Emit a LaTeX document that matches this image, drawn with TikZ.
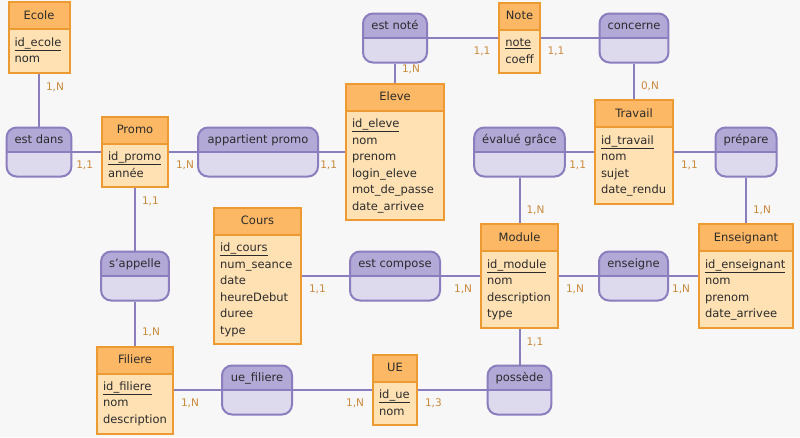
\documentclass[tikz,border=0pt]{standalone}
\usepackage{fontspec}
\setmainfont{DejaVu Sans}
\usepackage{xcolor}
\usepackage{tikz}
\usetikzlibrary{shapes.multipart}
\definecolor{bg}{HTML}{F7F7F7}
\definecolor{entline}{HTML}{EE9A33}
\definecolor{enthdr}{HTML}{FDB865}
\definecolor{entbody}{HTML}{FFE1B4}
\definecolor{relline}{HTML}{8B7DBE}
\definecolor{relhdr}{HTML}{B2A9D7}
\definecolor{relbody}{HTML}{DCDAEC}
\definecolor{cardcol}{HTML}{C98A3C}
\definecolor{txt}{HTML}{2B2B2B}

\begin{document}
\begin{tikzpicture}[x=1pt, y=-1pt,
entity/.style={rectangle split, rectangle split parts=2, draw=entline, line width=2pt, rectangle split part fill={enthdr,entbody}, rectangle split part align={center,left}, inner xsep=6pt, inner ysep=4.25pt, text=txt, font=\fontsize{11.5}{16.5}\selectfont},
relation/.style={draw=relline, line width=2pt, fill=relbody, rounded corners=10pt, minimum width=60pt, inner xsep=8pt, inner ysep=8pt, text height=8pt, text depth=25pt, text=txt, font=\fontsize{11.5}{16.5}\selectfont,
  path picture={\fill[relhdr, sharp corners] (path picture bounding box.north west) rectangle (path picture bounding box.east);
  \draw[relline, sharp corners, line width=1.5pt] (path picture bounding box.west) -- (path picture bounding box.east);}},
link/.style={draw=relline, line width=2pt},
card/.style={font=\fontsize{10.5}{12}\selectfont, text=cardcol, inner sep=0pt, at start},
cardse/.style={card, anchor=north west, xshift=6pt, yshift=-8pt},
cardsw/.style={card, anchor=north east, xshift=-7pt, yshift=-8pt},
cardne/.style={card, anchor=south west, xshift=6pt, yshift=8pt}]

\path[use as bounding box, fill=bg] (0,0) rectangle (800,437);

\node[entity, minimum width=61pt] (ecole) at (39,37.5) {Ecole\strut\nodepart{two}\begin{tabular}{@{}l@{}}\underline{id\_ecole}\\ nom\end{tabular}};
\node[entity, minimum width=66pt] (promo) at (135,152) {Promo\strut\nodepart{two}\begin{tabular}{@{}l@{}}\underline{id\_promo}\\ année\end{tabular}};
\node[entity, minimum width=98pt] (eleve) at (395,152) {Eleve\strut\nodepart{two}\begin{tabular}{@{}l@{}}\underline{id\_eleve}\\ nom\\ prenom\\ login\_eleve\\ mot\_de\_passe\\ date\_arrivee\end{tabular}};
\node[entity, minimum width=39pt] (note) at (519.5,38) {Note\strut\nodepart{two}\begin{tabular}{@{}l@{}}\underline{note}\\ coeff\end{tabular}};
\node[entity, minimum width=78pt] (travail) at (634,152) {Travail\strut\nodepart{two}\begin{tabular}{@{}l@{}}\underline{id\_travail}\\ nom\\ sujet\\ date\_rendu\end{tabular}};
\node[entity, minimum width=94pt] (enseignant) at (746,276) {Enseignant\strut\nodepart{two}\begin{tabular}{@{}l@{}}\underline{id\_enseignant}\\ nom\\ prenom\\ date\_arrivee\end{tabular}};
\node[entity, minimum width=77pt] (module) at (519.5,276) {Module\strut\nodepart{two}\begin{tabular}{@{}l@{}}\underline{id\_module}\\ nom\\ description\\ type\end{tabular}};
\node[entity, minimum width=87pt] (cours) at (257.5,276) {Cours\strut\nodepart{two}\begin{tabular}{@{}l@{}}\underline{id\_cours}\\ num\_seance\\ date\\ heureDebut\\ duree\\ type\end{tabular}};
\node[entity, minimum width=44pt] (ue) at (395,390) {UE\strut\nodepart{two}\begin{tabular}{@{}l@{}}\underline{id\_ue}\\ nom\end{tabular}};
\node[entity, minimum width=76pt] (filiere) at (135,390) {Filiere\strut\nodepart{two}\begin{tabular}{@{}l@{}}\underline{id\_filiere}\\ nom\\ description\end{tabular}};

\node[relation, minimum width=64pt] (estdans) at (39,152) {est dans};
\node[relation, minimum width=120pt] (appartient) at (258,152) {appartient promo};
\node[relation, minimum width=64pt] (estnote) at (395,38) {est noté};
\node[relation, minimum width=68pt] (concerne) at (634,38) {concerne};
\node[relation, minimum width=90pt] (evalue) at (519.5,152) {évalué grâce};
\node[relation, minimum width=61pt] (prepare) at (746,152) {prépare};
\node[relation, minimum width=66pt] (sappelle) at (135,276) {s’appelle};
\node[relation, minimum width=90pt] (estcompose) at (395,276) {est compose};
\node[relation, minimum width=69pt] (enseigne) at (633.5,276) {enseigne};
\node[relation, minimum width=63pt] (possede) at (519.5,390) {possède};
\node[relation, minimum width=70pt] (uefiliere) at (257,390) {ue\_filiere};

\draw[link] (ecole) -- (estdans) node[cardse] {1,N};
\draw[link] (promo) -- (estdans) node[cardsw] {1,1};
\draw[link] (promo) -- (appartient) node[cardse] {1,N};
\draw[link] (eleve) -- (appartient) node[cardsw] {1,1};
\draw[link] (eleve) -- (estnote) node[cardne] {1,N};
\draw[link] (note) -- (estnote) node[cardsw] {1,1};
\draw[link] (note) -- (concerne) node[cardse] {1,1};
\draw[link] (travail) -- (concerne) node[cardne] {0,N};
\draw[link] (travail) -- (evalue) node[cardsw] {1,1};
\draw[link] (travail) -- (prepare) node[cardse] {1,1};
\draw[link] (enseignant) -- (prepare) node[cardne] {1,N};
\draw[link] (module) -- (evalue) node[cardne] {1,N};
\draw[link] (enseignant) -- (enseigne) node[cardsw] {1,N};
\draw[link] (module) -- (enseigne) node[cardse] {1,N};
\draw[link] (module) -- (estcompose) node[cardsw] {1,N};
\draw[link] (cours) -- (estcompose) node[cardse] {1,1};
\draw[link] (module) -- (possede) node[cardse] {1,1};
\draw[link] (ue) -- (possede) node[cardse] {1,3};
\draw[link] (ue) -- (uefiliere) node[cardsw] {1,N};
\draw[link] (filiere) -- (uefiliere) node[cardse] {1,N};
\draw[link] (filiere) -- (sappelle) node[cardne] {1,N};
\draw[link] (promo) -- (sappelle) node[cardse] {1,1};

\end{tikzpicture}
\end{document}
